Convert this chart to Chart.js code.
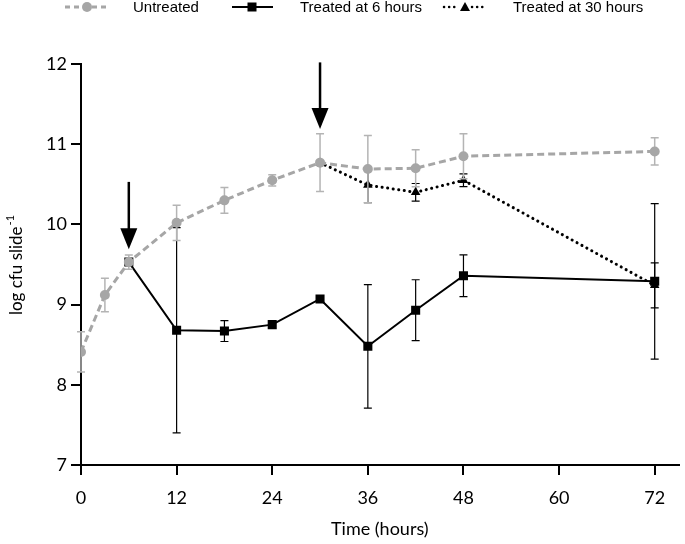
<!DOCTYPE html>
<html>
<head>
<meta charset="utf-8">
<script src="https://cdn.jsdelivr.net/npm/chart.js@4/dist/chart.umd.min.js"></script>
<style>
  html, body { margin: 0; padding: 0; background: #fff; }
  #wrap { width: 685px; height: 544px; }
</style>
</head>
<body>
<div id="wrap"><canvas id="c" width="685" height="544"></canvas></div>
<script>
// ---- data ----
const untreatedHours = [0, 3, 6, 12, 18, 24, 30, 36, 42, 48, 72];
const untreatedValues = [8.41, 9.12, 9.53, 10.02, 10.30, 10.55, 10.77, 10.69, 10.70, 10.85, 10.91];
const untreatedErr = [0.25, 0.21, 0.09, 0.22, 0.16, 0.07, 0.36, 0.42, 0.23, 0.28, 0.17];

const treated6Hours = [6, 12, 18, 24, 30, 36, 42, 48, 72];
const treated6Values = [9.53, 8.68, 8.67, 8.75, 9.07, 8.48, 8.93, 9.36, 9.29];
const treated6Err = [0, 1.28, 0.13, 0, 0, 0.77, 0.38, 0.26, 0.97];

const treated30Hours = [30, 36, 42, 48, 72];
const treated30Values = [10.77, 10.49, 10.40, 10.55, 9.24];
const treated30Err = [0, 0.22, 0.11, 0.08, 0.28];

const seriesNames = ['Untreated', 'Treated at 6 hours', 'Treated at 30 hours'];
const xTicks = [0, 12, 24, 36, 48, 60, 72];
const yTicks = [7, 8, 9, 10, 11, 12];

const arrowHours = [6, 30];
const arrowTop = [10.53, 12.02];
const arrowTip = [9.69, 11.19];

const GREY = '#a6a6a6';
const GREY_ERR = '#b4b4b4';

function pts(xs, ys) { return xs.map((x, i) => ({ x: x, y: ys[i] })); }

const errorSets = [untreatedErr, treated6Err, treated30Err];
const errColors = [GREY_ERR, '#000', '#000'];
const errWidths = [1.5, 1.2, 1.2];

const errorBarPlugin = {
  id: 'errbars',
  beforeDatasetDraw(chart, args) {
    const i = args.index;
    const ds = chart.data.datasets[i];
    const errs = errorSets[i];
    const xs = chart.scales.x, ys = chart.scales.y;
    const ctx = chart.ctx;
    ctx.save();
    ctx.strokeStyle = errColors[i];
    ctx.lineWidth = errWidths[i];
    ctx.setLineDash([]);
    ds.data.forEach((p, k) => {
      const e = errs[k];
      if (!e) return;
      const px = xs.getPixelForValue(p.x);
      const top = ys.getPixelForValue(p.y + e);
      const bot = ys.getPixelForValue(p.y - e);
      ctx.beginPath();
      ctx.moveTo(px, top); ctx.lineTo(px, bot);
      ctx.moveTo(px - 4, top); ctx.lineTo(px + 4, top);
      ctx.moveTo(px - 4, bot); ctx.lineTo(px + 4, bot);
      ctx.stroke();
    });
    ctx.restore();
  }
};

const decorPlugin = {
  id: 'decor',
  afterDatasetsDraw(chart) {
    const ctx = chart.ctx;
    const xs = chart.scales.x, ys = chart.scales.y;
    // arrows
    ctx.save();
    ctx.fillStyle = '#000';
    ctx.strokeStyle = '#000';
    arrowHours.forEach((h, i) => {
      const px = xs.getPixelForValue(h);
      const t = ys.getPixelForValue(arrowTop[i]);
      const tip = ys.getPixelForValue(arrowTip[i]);
      ctx.lineWidth = 2.5;
      ctx.beginPath();
      ctx.moveTo(px, t); ctx.lineTo(px, tip - 18);
      ctx.stroke();
      ctx.beginPath();
      ctx.moveTo(px - 8.5, tip - 21);
      ctx.lineTo(px + 8.5, tip - 21);
      ctx.lineTo(px, tip);
      ctx.closePath();
      ctx.fill();
    });
    ctx.restore();
  },
  afterDraw(chart) {
    const ctx = chart.ctx;
    ctx.save();
    // legend
    const ly = 7;
    ctx.font = '15px "Liberation Sans", Arial, sans-serif';
    ctx.textBaseline = 'middle';
    ctx.fillStyle = '#000';
    // Untreated
    ctx.strokeStyle = GREY; ctx.lineWidth = 3; ctx.setLineDash([5, 4]);
    ctx.beginPath(); ctx.moveTo(65, ly); ctx.lineTo(108, ly); ctx.stroke();
    ctx.setLineDash([]);
    ctx.fillStyle = GREY;
    ctx.beginPath(); ctx.arc(87, ly, 5, 0, Math.PI * 2); ctx.fill();
    ctx.fillStyle = '#000';
    ctx.fillText(seriesNames[0], 133, ly + 1);
    // Treated 6
    ctx.strokeStyle = '#000'; ctx.lineWidth = 2;
    ctx.beginPath(); ctx.moveTo(232, ly); ctx.lineTo(273, ly); ctx.stroke();
    ctx.fillRect(252 - 4.5, ly - 4.5, 9, 9);
    ctx.fillText(seriesNames[1], 300, ly + 1);
    // Treated 30
    ctx.lineWidth = 2.5; ctx.lineCap = 'round'; ctx.setLineDash([0.1, 5]);
    ctx.beginPath(); ctx.moveTo(444, ly); ctx.lineTo(459, ly); ctx.stroke();
    ctx.beginPath(); ctx.moveTo(472, ly); ctx.lineTo(487, ly); ctx.stroke();
    ctx.setLineDash([]); ctx.lineCap = 'butt';
    ctx.beginPath(); ctx.moveTo(465, ly - 5); ctx.lineTo(470, ly + 4); ctx.lineTo(460, ly + 4); ctx.closePath(); ctx.fill();
    ctx.fillText(seriesNames[2], 513, ly + 1);

    // y-axis title with superscript
    const main = 'log cfu slide';
    const sup = '-1';
    ctx.font = '17px Lato, sans-serif';
    const w1 = ctx.measureText(main).width;
    ctx.font = '11px Lato, sans-serif';
    const w2 = ctx.measureText(sup).width;
    const total = w1 + w2 + 1;
    ctx.translate(22, 265);
    ctx.rotate(-Math.PI / 2);
    ctx.textBaseline = 'alphabetic';
    ctx.textAlign = 'left';
    ctx.font = '17px Lato, sans-serif';
    ctx.fillText(main, -total / 2, 0);
    ctx.font = '11px Lato, sans-serif';
    ctx.fillText(sup, -total / 2 + w1 + 1, -8);
    ctx.restore();
  }
};

new Chart(document.getElementById('c'), {
  type: 'line',
  data: {
    datasets: [
      {
        label: seriesNames[0],
        data: pts(untreatedHours, untreatedValues),
        borderColor: GREY, backgroundColor: GREY,
        borderWidth: 3, borderDash: [7, 4],
        pointStyle: 'circle', pointRadius: 5, pointBorderWidth: 0,
        tension: 0
      },
      {
        label: seriesNames[1],
        data: pts(treated6Hours, treated6Values),
        borderColor: '#000', backgroundColor: '#000',
        borderWidth: 2,
        pointStyle: 'rect', pointRadius: 6.4, pointBorderWidth: 0,
        tension: 0
      },
      {
        label: seriesNames[2],
        data: pts(treated30Hours, treated30Values),
        borderColor: '#000', backgroundColor: '#000',
        borderWidth: 3, borderDash: [0.1, 5.5], borderCapStyle: 'round',
        pointStyle: 'triangle', pointRadius: 5.5, pointBorderWidth: 0,
        tension: 0
      }
    ]
  },
  options: {
    responsive: false,
    animation: false,
    devicePixelRatio: 1,
    layout: { padding: { top: 64, right: 0, left: 0, bottom: 0 } },
    plugins: { legend: { display: false }, tooltip: { enabled: false } },
    scales: {
      x: {
        type: 'linear', min: 0, max: 75,
        afterBuildTicks(s) { s.ticks = xTicks.map(v => ({ value: v })); },
        afterFit(s) { s.height = 79; },
        grid: { drawOnChartArea: false, drawTicks: true, tickLength: 10, color: '#000', lineWidth: 2 },
        border: { display: true, color: '#000', width: 2 },
        ticks: { color: '#000', font: { family: 'Lato', size: 18 }, padding: 12, maxRotation: 0 },
        title: { display: true, text: 'Time (hours)', color: '#000', font: { family: 'Lato', size: 18 }, padding: { top: 4, bottom: 4 } }
      },
      y: {
        type: 'linear', min: 7, max: 12,
        afterBuildTicks(s) { s.ticks = yTicks.map(v => ({ value: v })); },
        afterFit(s) { s.width = 81; },
        grid: { drawOnChartArea: false, drawTicks: true, tickLength: 10, color: '#000', lineWidth: 2 },
        border: { display: true, color: '#000', width: 2 },
        ticks: { color: '#000', font: { family: 'Lato', size: 18 }, padding: 4 }
      }
    }
  },
  plugins: [errorBarPlugin, decorPlugin]
});
</script>
</body>
</html>
